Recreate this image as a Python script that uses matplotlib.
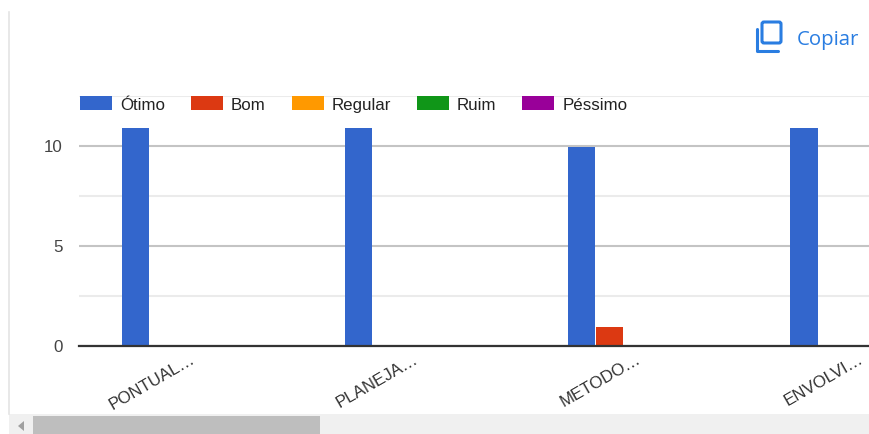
import numpy as np
import matplotlib
matplotlib.use('Agg')
import matplotlib.pyplot as plt
from matplotlib.patches import Rectangle, FancyBboxPatch, Polygon
from matplotlib.transforms import ScaledTranslation

plt.rcParams['font.family'] = ['Liberation Sans', 'DejaVu Sans']

# values
categorias = ['PONTUAL…', 'PLANEJA…', 'METODO…', 'ENVOLVI…']
otimo = [10.9, 10.9, 9.95, 10.9]
bom = [0, 0, 0.95, 0]
regular = [0, 0, 0, 0]
ruim = [0, 0, 0, 0]
pessimo = [0, 0, 0, 0]

series = [otimo, bom, regular, ruim, pessimo]
nomes = ['Ótimo', 'Bom', 'Regular', 'Ruim', 'Péssimo']
cores = ['#3366cc', '#dc3912', '#ff9900', '#109618', '#990099']

W, H = 870, 435
fig = plt.figure(figsize=(W / 100, H / 100), dpi=100, facecolor='white')
ax = fig.add_axes([79 / W, (H - 346.5) / H, 791 / W, 250 / H])

x = np.arange(len(categorias))
larg = 0.1257
handles = []
for i, (vals, nome, cor) in enumerate(zip(series, nomes, cores)):
    b = ax.bar(x + (i - 2) * larg, vals, 0.1215, color=cor, label=nome, zorder=3)
    handles.append(b)

ax.set_xlim(-0.507, 3.045)
ax.set_ylim(0, 12.5)
ax.set_yticks([0, 5, 10])
ax.set_yticks([2.5, 7.5, 12.5], minor=True)
ax.grid(True, which='major', axis='y', color='#c4c4c4', linewidth=1.5, zorder=1)
ax.grid(True, which='minor', axis='y', color='#ebebeb', linewidth=1.5, zorder=1)
for s in ['top', 'left', 'right']:
    ax.spines[s].set_visible(False)
ax.spines['bottom'].set_color('#333333')
ax.spines['bottom'].set_linewidth(1.6)
ax.spines['bottom'].set_zorder(5)
ax.tick_params(axis='both', which='both', length=0)
ax.tick_params(axis='y', labelsize=12.2, labelcolor='#444444', pad=12)

ax.set_xticks(x)
ax.set_xticklabels(categorias, rotation=30, ha='right', va='top', rotation_mode='anchor',
                   fontsize=12.2, color='#333333')
ax.tick_params(axis='x', pad=3.5)
desloc = ScaledTranslation(-2 / 100, 0, fig.dpi_scale_trans)
for t in ax.get_xticklabels():
    t.set_transform(t.get_transform() + desloc)

fig.legend(handles=handles, loc='upper left', bbox_to_anchor=(80 / W, (H - 97) / H),
           ncol=5, frameon=False, fontsize=12.2, handlelength=1.9, handleheight=0.9,
           handletextpad=0.47, columnspacing=1.52, borderpad=0, borderaxespad=0,
           labelcolor='#222222')

# page chrome in pixel coordinates
ui = fig.add_axes([0, 0, 1, 1], zorder=10)
ui.set_xlim(0, W)
ui.set_ylim(H, 0)
ui.axis('off')
ui.plot([9.5, 9.5], [13, 415], color='#e4e4e4', lw=1.2)
ui.add_patch(Rectangle((9, 415), W - 9, 20, fc='#f0f0f0', ec='none'))
ui.add_patch(Rectangle((33, 417), 287, 18, fc='#bebebe', ec='none'))
ui.add_patch(Polygon([[24, 422], [24, 432], [18, 427]], fc='#a0a0a0', ec='none'))

azul = '#2a7de1'
ui.add_patch(FancyBboxPatch((762, 23), 19, 21, boxstyle='round,pad=0,rounding_size=2',
                            fc='none', ec=azul, lw=2.2))
ui.plot([757, 757, 778], [30, 51.5, 51.5], color=azul, lw=2.2, solid_capstyle='round',
        solid_joinstyle='round')
ui.text(797, 39.5, 'Copiar', fontsize=14.7, color=azul, family='Open Sans', va='center', ha='left')

fig.savefig('out.png', dpi=100)
